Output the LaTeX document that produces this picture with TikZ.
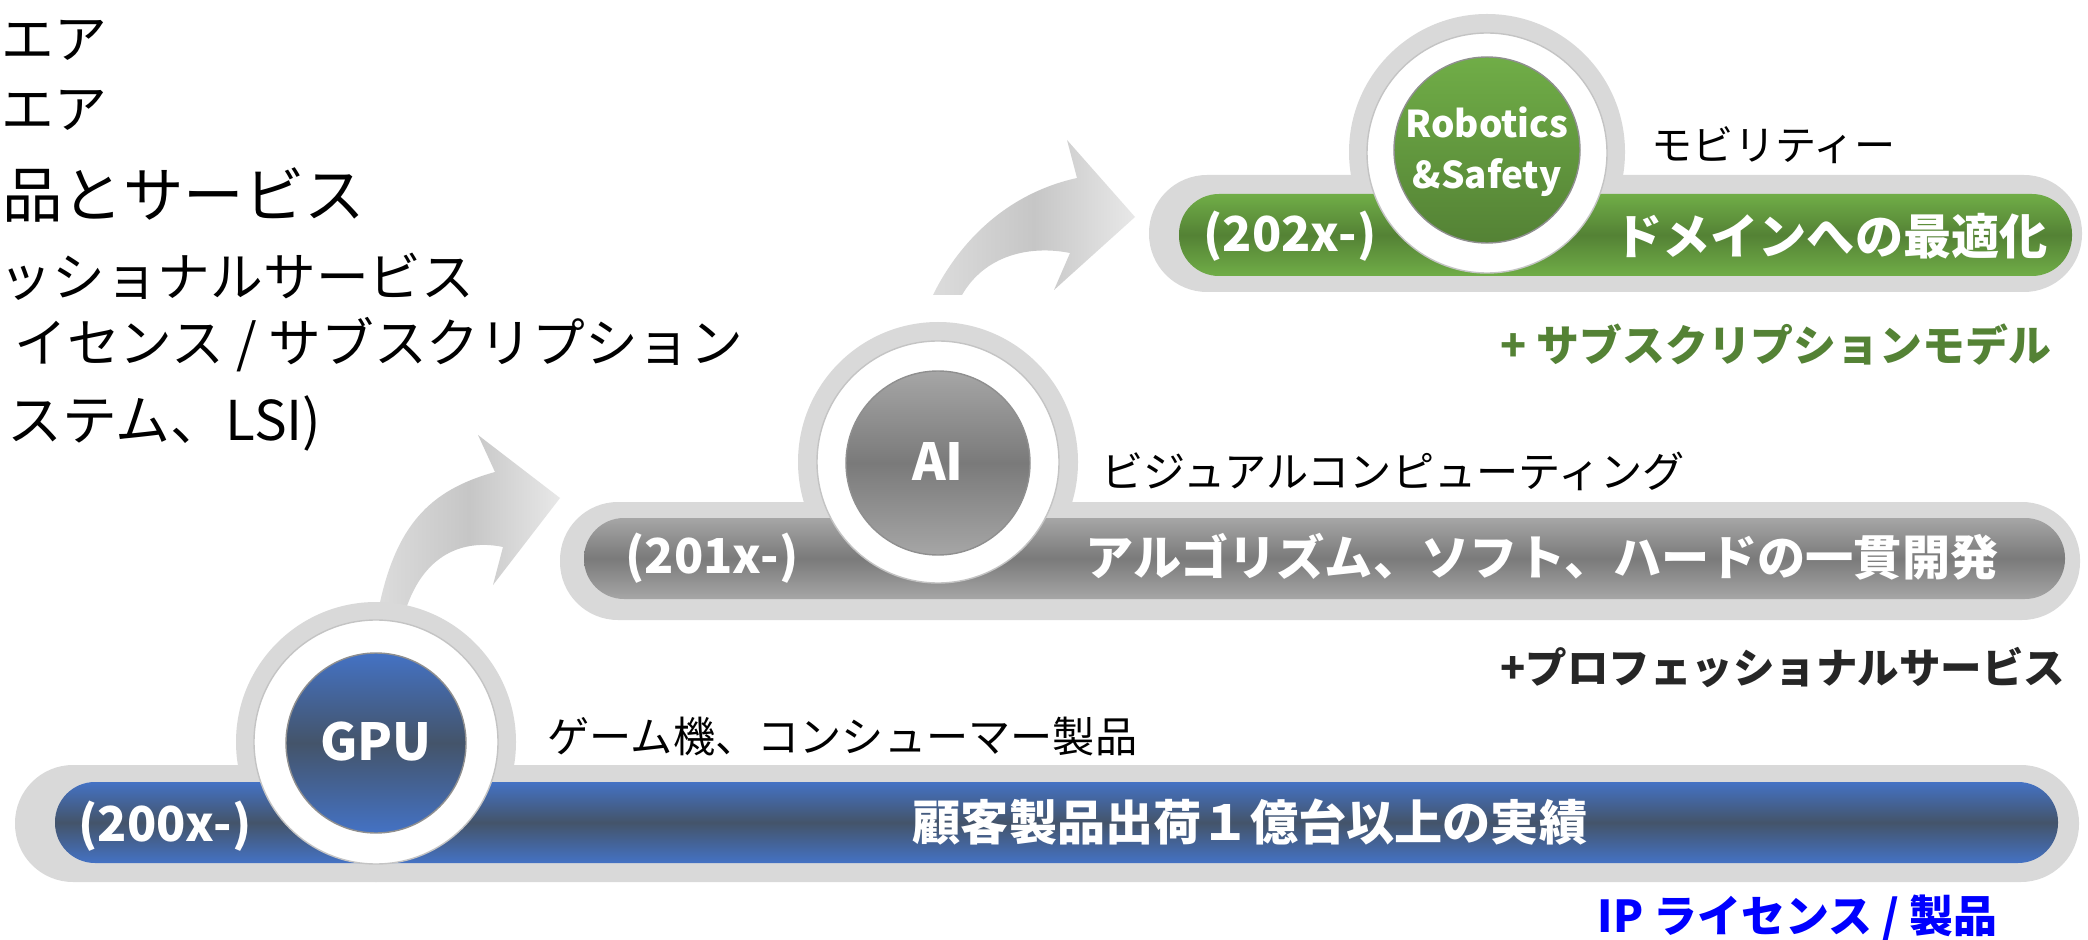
\documentclass[tikz,border=0pt]{standalone}
\usepackage{fontspec}
\setmainfont{Noto Sans CJK JP}
\definecolor{halo}{HTML}{D9D9D9}
\definecolor{blueA}{HTML}{4472C4}
\definecolor{blueB}{HTML}{44546A}
\definecolor{grayA}{HTML}{A6A6A6}
\definecolor{grayB}{HTML}{7A7A7A}
\definecolor{greenA}{HTML}{70AD47}
\definecolor{greenB}{HTML}{548235}
\definecolor{arrowA}{HTML}{DCDCDC}
\definecolor{arrowB}{HTML}{C6C6C6}
\definecolor{arrowC}{HTML}{E8E8E8}
\definecolor{darktxt}{HTML}{262626}
\definecolor{ipblue}{HTML}{0000FF}
\definecolor{ringedge}{HTML}{C4C4C4}
\definecolor{inneredge}{HTML}{8F8F8F}
\newcommand\myfs[1]{\fontsize{#1}{1.2\dimexpr#1\relax}\selectfont}
\tikzset{
  lefttxt/.style={inner sep=0pt, anchor=east, font=\myfs{15pt}},
  bartxt/.style={inner sep=0pt, text=white, font=\bfseries\myfs{13.7pt}},
  subtxt/.style={inner sep=0pt, anchor=west, font=\myfs{12pt}},
  circtxt/.style={inner sep=0pt, text=white, font=\bfseries\myfs{14.5pt}, align=center},
  notetxt/.style={inner sep=0pt, anchor=east, font=\bfseries\myfs{12pt}},
  bigarrow/.style={left color=arrowA, right color=arrowC, middle color=arrowB},
  ringstyle/.style={fill=white, draw=ringedge, line width=0.4pt},
  blueshade/.style={top color=blueA, bottom color=blueA, middle color=blueB},
  grayshade/.style={top color=grayA, bottom color=grayA, middle color=grayB},
  greenshade/.style={top color=greenA, bottom color=greenA, middle color=greenB},
}
\begin{document}
\begin{tikzpicture}[x=0.01cm,y=-0.01cm]
\useasboundingbox[fill=white] (0,0) rectangle (2088,940);

% ---- left text (cut at the left edge) ----
\node[lefttxt, anchor=west] (l1) at (1,40) {エア};
\node[lefttxt, anchor=west] (l2) at (1,110) {エア};
\node[lefttxt, font=\myfs{17.2pt}] (l3) at (366,195) {品とサービス};
\node[lefttxt] (l4) at (475,277) {ッショナルサービス};
\node[lefttxt] (l5) at (744,345) {イセンス / サブスクリプション};
\node[lefttxt, font=\myfs{15.6pt}] (l6) at (322,423) {ステム、LSI)};

% ---- curved arrows ----
\shade[bigarrow] (378,612) .. controls (395,525) and (430,490) .. (495,472)
   -- (478,435) -- (560,498) -- (493,585) -- (503,547)
   .. controls (470,540) and (425,548) .. (405,612) -- cycle;
\shade[bigarrow] (933,295) .. controls (955,250) and (1000,195) .. (1077,178)
   -- (1067,140) -- (1135,217) -- (1054,290) -- (1070,253)
   .. controls (1030,245) and (985,255) .. (962,295) -- cycle;

% ---- tier 1 : GPU (blue) ----
\fill[halo, rounded corners=0.58cm] (15,765) rectangle (2079,882);
\fill[halo] (376,742) circle[radius=140];
\shade[blueshade, rounded corners=0.4cm] (55,782) rectangle (2058,863);
\filldraw[ringstyle] (376,742) circle[radius=122];
\shade[blueshade] (376,743) circle[radius=90];
\draw[inneredge, line width=0.4pt] (376,743) circle[radius=90];
\node[circtxt] (gpu) at (376,742) {GPU};
\node[bartxt] (y200) at (165,826) {(200x-)};
\node[bartxt] (t200) at (1250,822) {顧客製品出荷１億台以上の実績};
\node[subtxt] (s200) at (547,737) {ゲーム機、コンシューマー製品};
\node[notetxt, text=ipblue, font=\bfseries\myfs{12.5pt}] (n200) at (1998,918) {IP ライセンス / 製品};

% ---- tier 2 : AI (gray) ----
\fill[halo, rounded corners=0.58cm] (560,502) rectangle (2080,620);
\fill[halo] (938,462) circle[radius=140];
\shade[grayshade, rounded corners=0.4cm] (584,518) rectangle (2065,599);
\filldraw[ringstyle] (938,462) circle[radius=121];
\shade[grayshade] (938,463) circle[radius=92];
\draw[inneredge, line width=0.4pt] (938,463) circle[radius=92];
\node[circtxt] (ai) at (938,462) {AI};
\node[bartxt] (y201) at (712,558) {(201x-)};
\node[bartxt] (t201) at (1542,557) {アルゴリズム、ソフト、ハードの一貫開発};
\node[subtxt] (s201) at (1101,471) {ビジュアルコンピューティング};
\node[notetxt, text=darktxt, font=\bfseries\myfs{11.8pt}] (n201) at (2066,668) {+プロフェッショナルサービス};

% ---- tier 3 : Robotics (green) ----
\fill[halo, rounded corners=0.58cm] (1149,175) rectangle (2082,292);
\fill[halo] (1487,152) circle[radius=138];
\shade[greenshade, rounded corners=0.4cm] (1179,194) rectangle (2072,276);
\filldraw[ringstyle] (1487,153) circle[radius=120];
\shade[top color=greenA, bottom color=greenB] (1487,150) circle[radius=93];
\draw[inneredge, line width=0.4pt] (1487,150) circle[radius=93];
\node[circtxt, font=\bfseries\myfs{10.5pt}] (rob) at (1487,152) {Robotics\\[2pt]\&Safety};
\node[bartxt] (y202) at (1290,236) {(202x-)};
\node[bartxt] (t202) at (1831,236) {ドメインへの最適化};
\node[subtxt, font=\myfs{11.7pt}] (s202) at (1651,145) {モビリティー};
\node[notetxt, text=greenB, font=\bfseries\myfs{12.2pt}] (n202) at (2052,345) {+ サブスクリプションモデル};
\end{tikzpicture}
\end{document}
